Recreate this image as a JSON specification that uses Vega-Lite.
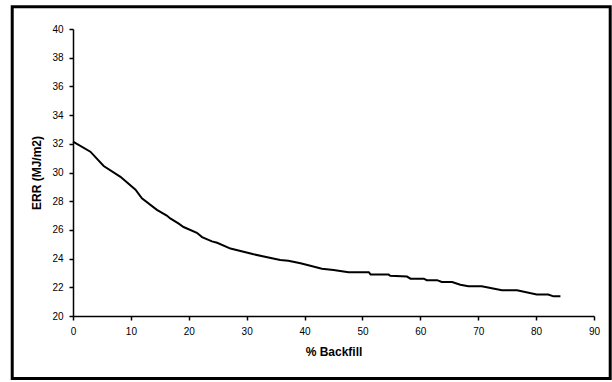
{
  "$schema": "https://vega.github.io/schema/vega-lite/v6.json",
  "width": 521,
  "height": 287,
  "autosize": {"type": "none"},
  "padding": {"left": 73, "top": 29, "right": 18, "bottom": 66},
  "background": "white",
  "config": {
    "view": {"stroke": null},
    "font": "Liberation Sans",
    "axis": {
      "grid": false,
      "domainColor": "black",
      "domainWidth": 1.5,
      "tickColor": "black",
      "tickWidth": 1.5,
      "tickSize": 4,
      "labelFont": "Liberation Sans",
      "labelFontSize": 10,
      "labelColor": "black",
      "labelOverlap": false,
      "labelFlush": false,
      "titleFont": "Liberation Sans",
      "titleFontSize": 12,
      "titleFontWeight": "bold",
      "titleColor": "black"
    }
  },
  "layer": [
    {
      "data": {"values": [{"a": 1}]},
      "mark": {"type": "rect", "fill": null, "stroke": "black", "strokeWidth": 3, "clip": false},
      "encoding": {
        "x": {"datum": -10.5, "type": "quantitative", "scale": {"domain": [0, 90], "nice": false},
          "axis": {"title": "% Backfill", "values": [0,10,20,30,40,50,60,70,80,90], "labelPadding": 6, "titlePadding": 10}},
        "x2": {"datum": 92.8},
        "y": {"datum": 41.55, "type": "quantitative", "scale": {"domain": [20, 40], "nice": false},
          "axis": {"title": "ERR (MJ/m2)", "values": [20,22,24,26,28,30,32,34,36,38,40], "labelPadding": 6, "titlePadding": 8}},
        "y2": {"datum": 15.65}
      }
    },
    {
      "data": {
        "values": [
          {"backfill": 0, "err": 32.15},
          {"backfill": 3.0, "err": 31.45},
          {"backfill": 5.3, "err": 30.45},
          {"backfill": 8.2, "err": 29.7},
          {"backfill": 10.8, "err": 28.8},
          {"backfill": 11.9, "err": 28.2},
          {"backfill": 14.5, "err": 27.4},
          {"backfill": 16.2, "err": 27.0},
          {"backfill": 16.8, "err": 26.8},
          {"backfill": 18.2, "err": 26.45},
          {"backfill": 19.1, "err": 26.2},
          {"backfill": 21.4, "err": 25.8},
          {"backfill": 22.3, "err": 25.5},
          {"backfill": 24.0, "err": 25.2},
          {"backfill": 24.9, "err": 25.1},
          {"backfill": 27.2, "err": 24.7},
          {"backfill": 31.2, "err": 24.3},
          {"backfill": 35.8, "err": 23.9},
          {"backfill": 37.2, "err": 23.85},
          {"backfill": 39.3, "err": 23.67},
          {"backfill": 41.0, "err": 23.5},
          {"backfill": 43.0, "err": 23.3},
          {"backfill": 45.0, "err": 23.2},
          {"backfill": 47.6, "err": 23.05},
          {"backfill": 51.1, "err": 23.05},
          {"backfill": 51.4, "err": 22.9},
          {"backfill": 54.5, "err": 22.9},
          {"backfill": 54.8, "err": 22.8},
          {"backfill": 57.7, "err": 22.75},
          {"backfill": 58.3, "err": 22.6},
          {"backfill": 60.6, "err": 22.6},
          {"backfill": 61.1, "err": 22.5},
          {"backfill": 62.9, "err": 22.5},
          {"backfill": 63.7, "err": 22.37},
          {"backfill": 65.5, "err": 22.37},
          {"backfill": 66.9, "err": 22.18},
          {"backfill": 68.3, "err": 22.07},
          {"backfill": 70.6, "err": 22.07},
          {"backfill": 74.1, "err": 21.8},
          {"backfill": 76.7, "err": 21.8},
          {"backfill": 80.1, "err": 21.5},
          {"backfill": 82.1, "err": 21.5},
          {"backfill": 83.0, "err": 21.37},
          {"backfill": 84.2, "err": 21.37}
        ]
      },
      "mark": {"type": "line", "color": "black", "strokeWidth": 2},
      "encoding": {
        "x": {
          "field": "backfill", "type": "quantitative",
          "scale": {"domain": [0, 90], "nice": false},
          "axis": {"title": "% Backfill", "values": [0,10,20,30,40,50,60,70,80,90], "labelPadding": 6, "titlePadding": 10}
        },
        "y": {
          "field": "err", "type": "quantitative",
          "scale": {"domain": [20, 40], "nice": false},
          "axis": {"title": "ERR (MJ/m2)", "values": [20,22,24,26,28,30,32,34,36,38,40], "labelPadding": 6, "titlePadding": 8}
        }
      }
    }
  ]
}
